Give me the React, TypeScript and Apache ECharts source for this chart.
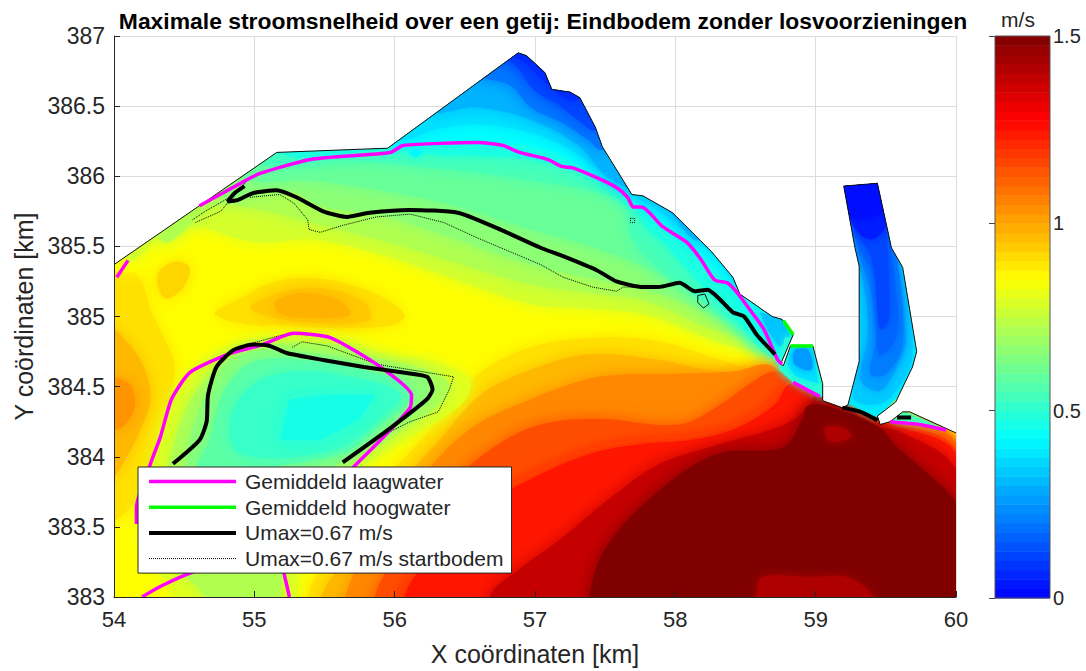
import React, { useEffect, useRef } from "react";
import * as echarts from "echarts";

type P = number[];

// ---------- axes ----------
const X_MIN = 54, X_MAX = 60, Y_MIN = 383, Y_MAX = 387;
const TITLE = "Maximale stroomsnelheid over een getij: Eindbodem zonder losvoorzieningen";
const COLOR_STOPS: [number, number[]][] = [
  [0, [0, 0, 255]], [0.428, [0, 255, 255]], [0.64, [128, 255, 128]],
  [0.85, [255, 255, 0]], [1.28, [255, 0, 0]], [1.5, [128, 0, 0]],
];

// ---------- coast (km) ----------
const COAST: P[] = [[54, 385.37], [55.16, 386.17], [55.95, 386.2], [56.88, 386.88], [56.94, 386.86], [57.07, 386.74], [57.12, 386.62], [57.25, 386.6], [57.32, 386.56], [57.43, 386.35], [57.48, 386.21], [57.69, 385.87], [57.77, 385.86], [57.98, 385.74], [58.26, 385.46], [58.41, 385.28], [58.46, 385.16], [58.69, 385], [58.76, 384.98], [58.84, 384.87], [58.75, 384.66], [58.77, 384.65], [58.82, 384.79], [58.98, 384.79], [59.05, 384.52], [59.05, 384.4], [59.19, 384.35], [59.23, 384.37], [59.31, 384.68], [59.31, 385.36], [59.28, 385.49], [59.2, 385.93], [59.44, 385.95], [59.54, 385.49], [59.62, 385.35], [59.72, 384.75], [59.69, 384.64], [59.57, 384.39], [59.44, 384.29], [59.46, 384.23], [59.53, 384.25], [59.62, 384.32], [59.67, 384.32], [60, 384.17]];
const DOMAIN_CORNERS: P[] = [[60, 383], [54, 383]];

// ---------- colour field: contour polygons, painted in order ----------
const BASE: P[] = [[53.5, 382.5], [60.5, 382.5], [60.5, 387.5], [53.5, 387.5]];
const NORTH_TOP: P[] = [[59.1, 387.5], [53.5, 387.5]];
const N85: P[] = [[53.97, 385.36], [54.26, 385.36], [54.4, 385.52], [54.56, 385.58], [54.79, 385.55], [54.93, 385.39], [55.18, 385.42], [55.4, 385.46], [55.88, 385.34], [56.35, 385.19], [56.97, 385.01], [57.32, 384.99], [57.8, 384.94], [58.3, 384.78], [58.63, 384.71], [58.82, 384.55]];
const N78: P[] = [[54.08, 385.41], [54.4, 385.62], [54.61, 385.64], [54.9, 385.55], [55.11, 385.53], [55.4, 385.55], [55.88, 385.45], [56.35, 385.29], [56.97, 385.09], [57.32, 385.06], [57.8, 385.01], [58.3, 384.82], [58.6, 384.73], [58.78, 384.57]];
const N72: P[] = [[54.33, 385.55], [54.72, 385.79], [55.04, 385.76], [55.33, 385.69], [55.88, 385.55], [56.35, 385.41], [56.97, 385.23], [57.46, 385.16], [57.8, 385.11], [58.18, 384.94], [58.6, 384.8], [58.76, 384.62]];
const N66: P[] = [[54.75, 385.87], [55.25, 385.9], [55.47, 385.79], [55.9, 385.72], [56.35, 385.58], [56.97, 385.37], [57.46, 385.26], [57.82, 385.18], [58.18, 385.05], [58.57, 384.84], [58.75, 384.66]];
const N60: P[] = [[54.9, 386.01], [55.4, 385.97], [55.9, 385.9], [56.39, 385.8], [56.97, 385.62], [57.46, 385.48], [57.89, 385.3], [58.32, 385.01], [58.67, 384.8]];
const N55: P[] = [[54.97, 386.12], [55.61, 386.12], [56.04, 386.08], [56.54, 386.03], [56.97, 385.97], [57.39, 385.9], [57.64, 385.79], [57.69, 385.55], [57.89, 385.33], [58.18, 385.12], [58.46, 384.91], [58.71, 384.73]];
const N48: P[] = [[55.11, 386.19], [56, 386.19], [56.32, 386.15], [56.89, 386.13], [57.25, 386.05], [57.68, 385.87], [57.78, 385.65], [57.93, 385.51], [58.18, 385.23], [58.43, 384.98], [58.67, 384.8]];
const N43: P[] = [[55.93, 386.22], [56.18, 386.24], [56.97, 386.22], [57.39, 386.05], [57.69, 385.83], [57.89, 385.7], [58.25, 385.39], [58.46, 385.16], [58.61, 385.01]];
const N38: P[] = [[55.95, 386.26], [56.32, 386.34], [56.59, 386.37], [57, 386.3], [57.32, 386.15], [57.53, 385.97], [57.75, 385.83], [57.89, 385.75], [58.28, 385.42], [58.5, 385.19]];
const N30: P[] = [[56.22, 386.46], [56.59, 386.49], [57, 386.39], [57.32, 386.21], [57.5, 386.01], [57.78, 385.85], [57.92, 385.78], [58.18, 385.56]];
const N20: P[] = [[56.61, 386.7], [56.82, 386.65], [56.97, 386.49], [57.21, 386.37], [57.39, 386.25], [57.48, 386.19]];
const N12: P[] = [[56.79, 386.83], [57, 386.61], [57.18, 386.5], [57.32, 386.39], [57.44, 386.33]];
const N07: P[] = [[56.86, 386.84], [57.07, 386.67], [57.18, 386.58], [57.29, 386.54]];
const SPOT: P[] = [[56.1, 386.17], [56.15, 386.21], [56.2, 386.17], [56.15, 386.13]];

const H90: P[] = [[55.38, 383], [55.54, 383.3], [55.86, 383.76], [56.18, 384.11], [56.43, 384.39], [56.61, 384.6], [56.97, 384.78], [57.46, 384.85], [57.89, 384.82], [58.32, 384.69], [58.67, 384.57], [58.89, 384.39], [59.6, 384.29], [60, 384.15]];
const H97: P[] = [[55.48, 383], [55.65, 383.27], [55.97, 383.73], [56.32, 384.12], [56.61, 384.44], [56.97, 384.62], [57.39, 384.73], [57.89, 384.69], [58.28, 384.61], [58.64, 384.61], [58.82, 384.59], [59.18, 384.35], [59.6, 384.27], [60, 384.12]];
const H105: P[] = [[55.65, 383], [55.82, 383.34], [56.18, 383.84], [56.54, 384.2], [56.97, 384.41], [57.46, 384.57], [57.96, 384.59], [58.43, 384.61], [58.64, 384.66], [58.78, 384.59], [59.1, 384.35], [59.6, 384.25], [60, 384.1]];
const H115: P[] = [[55.86, 383], [56, 383.27], [56.32, 383.73], [56.68, 384.05], [57.04, 384.23], [57.46, 384.27], [58.03, 384.23], [58.32, 384.37], [58.53, 384.52], [58.71, 384.61], [58.89, 384.52], [59.18, 384.32], [59.6, 384.23], [60, 384.05]];
const H125: P[] = [[56.07, 383], [56.25, 383.27], [56.61, 383.63], [56.97, 383.84], [57.39, 384.02], [57.75, 384.09], [58.11, 384.12], [58.43, 384.2], [58.71, 384.37], [58.82, 384.52], [59.03, 384.44], [59.32, 384.27], [59.6, 384.21], [60, 384.02]];
const H138: P[] = [[56.68, 383], [56.89, 383.2], [57.18, 383.41], [57.53, 383.7], [57.89, 383.95], [58.32, 384.09], [58.78, 384.23], [58.96, 384.37], [59.03, 384.52], [59.39, 384.23], [59.6, 384.18], [60, 383.91]];
const H150: P[] = [[57.39, 383], [57.51, 383.36], [57.91, 383.78], [58.3, 384.02], [58.77, 384.07], [58.91, 384.28], [58.94, 384.36], [59.05, 384.37], [59.44, 384.22], [59.58, 384.07], [59.81, 383.87], [60.01, 383.66]];
const PATCH_A: P[] = [[58.58, 382.8], [58.58, 383], [58.62, 383.14], [58.98, 383.14], [59.22, 383.14], [59.41, 383], [59.41, 382.8]];
const PATCH_B: P[] = [[59.07, 384.21], [59.21, 384.2], [59.25, 384.14], [59.1, 384.11]];

const A90: P[] = [[53.97, 385.3], [54.08, 385.35], [54.19, 385.26], [54.26, 385.05], [54.36, 384.84], [54.43, 384.66], [54.4, 384.41], [54.36, 384.2], [54.26, 383.84], [54.11, 383.63], [53.97, 383.55]];
const A97: P[] = [[53.97, 384.91], [54.11, 384.8], [54.22, 384.62], [54.26, 384.41], [54.19, 384.2], [54.08, 383.98], [53.97, 383.84]];
const A103: P[] = [[53.97, 384.55], [54.11, 384.52], [54.15, 384.37], [54.08, 384.23], [53.97, 384.2]];
const B92: P[] = [[54.31, 385.3], [54.43, 385.39], [54.54, 385.35], [54.48, 385.19], [54.36, 385.13]];
const C90: P[] = [[54.72, 385.02], [54.9, 385.13], [55.15, 385.25], [55.47, 385.27], [55.82, 385.18], [56.07, 385.02], [56, 384.94], [55.54, 384.92], [55.25, 384.94], [54.97, 384.94]];
const C94: P[] = [[54.97, 385.06], [55.22, 385.18], [55.5, 385.2], [55.79, 385.1], [55.82, 384.97], [55.33, 384.96]];
const C98: P[] = [[55.15, 385.11], [55.36, 385.17], [55.61, 385.11], [55.68, 385.01], [55.4, 384.99], [55.18, 385.02]];

const I80: P[] = [[54.43, 382.8], [54.43, 383], [54.26, 383.27], [54.19, 383.59], [54.28, 384.02], [54.38, 384.35], [54.54, 384.61], [54.81, 384.78], [55.06, 384.85], [55.59, 384.85], [55.88, 384.75], [56.35, 384.66], [56.54, 384.54], [56.47, 384.37], [56.11, 384.14], [55.75, 383.9], [55.47, 383.48], [55.33, 383.2], [55.31, 383], [55.31, 382.8]];
const I72: P[] = [[54.65, 382.8], [54.65, 383], [54.4, 383.27], [54.33, 383.63], [54.41, 384.02], [54.51, 384.34], [54.65, 384.55], [54.86, 384.73], [55.08, 384.8], [55.57, 384.8], [55.86, 384.71], [56.25, 384.61], [56.39, 384.52], [56.32, 384.37], [56, 384.16], [55.65, 383.87], [55.33, 383.48], [55.22, 383.2], [55.18, 383], [55.18, 382.8]];
const I66: P[] = [[54.51, 383.91], [54.61, 384.34], [54.79, 384.66], [55.04, 384.76], [55.47, 384.73], [55.82, 384.66], [56.18, 384.59], [56.29, 384.49], [56.18, 384.34], [55.9, 384.16], [55.54, 383.91], [55.22, 383.63], [54.61, 383.63]];
const I58: P[] = [[54.68, 384.12], [54.79, 384.48], [55, 384.68], [55.47, 384.68], [55.82, 384.61], [56.07, 384.52], [56.11, 384.41], [55.9, 384.23], [55.61, 384.02], [54.61, 383.91]];
const I52: P[] = [[54.83, 384.27], [55, 384.52], [55.33, 384.61], [55.82, 384.54], [56.04, 384.44], [55.93, 384.3], [55.57, 384.05], [54.9, 384.02]];
const I47: P[] = [[55.25, 384.41], [55.54, 384.44], [55.86, 384.44], [55.75, 384.27], [55.47, 384.12], [55.18, 384.12]];

const PIER42: P[] = [[59.2, 384.37], [59.25, 384.37], [59.44, 384.28], [59.78, 384.62], [59.78, 385.97], [59.17, 385.97]];
const PIER36: P[] = [[59.27, 384.42], [59.39, 384.37], [59.53, 384.42], [59.69, 384.73], [59.6, 385.41], [59.46, 385.97], [59.21, 385.97], [59.29, 385.41], [59.32, 384.77]];
const PIER30: P[] = [[59.32, 384.55], [59.46, 384.47], [59.6, 384.69], [59.64, 384.84], [59.57, 385.48], [59.46, 385.97], [59.21, 385.97], [59.29, 385.48], [59.36, 385.12], [59.37, 384.84]];
const PIER24: P[] = [[59.39, 384.59], [59.5, 384.59], [59.62, 384.8], [59.57, 385.48], [59.46, 385.97], [59.21, 385.97], [59.3, 385.48], [59.39, 385.19], [59.43, 384.84]];
const PIER17: P[] = [[59.45, 384.73], [59.55, 384.8], [59.59, 384.98], [59.54, 385.44], [59.44, 385.97], [59.21, 385.97], [59.3, 385.51], [59.43, 385.26]];
const PIER10: P[] = [[59.46, 384.91], [59.52, 384.98], [59.52, 385.33], [59.5, 385.65], [59.44, 385.97], [59.21, 385.97], [59.28, 385.62], [59.4, 385.41]];
const PIER05: P[] = [[59.39, 385.55], [59.5, 385.65], [59.44, 385.97], [59.21, 385.97], [59.27, 385.65]];
const PIER02: P[] = [[59.25, 385.72], [59.48, 385.76], [59.44, 385.97], [59.21, 385.97]];

const BLOCK1A: P[] = [[58.44, 385.18], [58.8, 385.1], [58.95, 384.85], [58.8, 384.6], [58.74, 384.67], [58.63, 384.88], [58.46, 385.11]];
const BLOCK1B: P[] = [[58.6, 385.03], [58.78, 384.98], [58.82, 384.85], [58.74, 384.78], [58.66, 384.9]];
const BLOCK2A: P[] = [[58.78, 384.85], [59.02, 384.85], [59.1, 384.42], [59.03, 384.43], [58.84, 384.53], [58.74, 384.62]];
const BLOCK2B: P[] = [[58.83, 384.8], [58.97, 384.8], [59.02, 384.52], [58.85, 384.58], [58.8, 384.66]];
const BLOCK2C: P[] = [[58.85, 384.76], [58.95, 384.76], [58.97, 384.62], [58.85, 384.66]];
const BLOCK3: P[] = [[59.53, 384.28], [59.64, 384.32], [59.94, 384.19], [59.78, 384.23], [59.55, 384.25]];

const closeSouth = (pts: P[]): P[] => [...pts, [60.5, 382.5], [pts[0][0], 382.5]];
const closeNorth = (pts: P[]): P[] => [...pts, ...NORTH_TOP];

const LAYERS: { value: number; points: P[]; fine?: boolean }[] = [
  { value: 0.85, points: BASE },
  { value: 0.9, points: A90 }, { value: 0.97, points: A97 }, { value: 1.03, points: A103 },
  { value: 0.92, points: B92 }, { value: 0.9, points: C90 }, { value: 0.94, points: C94 }, { value: 0.98, points: C98 },
  { value: 0.85, points: closeNorth(N85) }, { value: 0.78, points: closeNorth(N78) }, { value: 0.72, points: closeNorth(N72) },
  { value: 0.66, points: closeNorth(N66) }, { value: 0.6, points: closeNorth(N60) }, { value: 0.55, points: closeNorth(N55) },
  { value: 0.48, points: closeNorth(N48) }, { value: 0.43, points: closeNorth(N43) }, { value: 0.38, points: closeNorth(N38) },
  { value: 0.3, points: closeNorth(N30) }, { value: 0.2, points: closeNorth(N20) }, { value: 0.12, points: closeNorth(N12) },
  { value: 0.07, points: closeNorth(N07) }, { value: 0.42, points: SPOT, fine: true },
  { value: 0.9, points: closeSouth(H90) }, { value: 0.97, points: closeSouth(H97) }, { value: 1.05, points: closeSouth(H105) },
  { value: 1.15, points: closeSouth(H115) }, { value: 1.25, points: closeSouth(H125) }, { value: 1.38, points: closeSouth(H138) },
  { value: 1.5, points: closeSouth(H150) }, { value: 1.42, points: PATCH_A, fine: true }, { value: 1.42, points: PATCH_B, fine: true },
  { value: 0.8, points: I80 }, { value: 0.72, points: I72 }, { value: 0.66, points: I66 },
  { value: 0.58, points: I58 }, { value: 0.52, points: I52 }, { value: 0.47, points: I47 },
  { value: 0.4, points: PIER42, fine: true }, { value: 0.34, points: PIER36, fine: true }, { value: 0.27, points: PIER30, fine: true }, { value: 0.21, points: PIER24, fine: true },
  { value: 0.17, points: PIER17, fine: true }, { value: 0.12, points: PIER10, fine: true }, { value: 0.05, points: PIER05, fine: true }, { value: 0.02, points: PIER02, fine: true },
  { value: 0.45, points: BLOCK1A, fine: true }, { value: 0.33, points: BLOCK1B, fine: true },
  { value: 0.5, points: BLOCK2A, fine: true }, { value: 0.38, points: BLOCK2B, fine: true }, { value: 0.26, points: BLOCK2C, fine: true },
  { value: 0.55, points: BLOCK3, fine: true },
];

// ---------- contour lines (km) ----------
const LAAG: P[][] = [
  [[54.61, 385.79], [54.92, 385.96], [55.04, 386.02], [55.4, 386.12], [55.97, 386.17], [56.06, 386.22], [56.59, 386.24], [56.77, 386.22], [56.89, 386.17], [57.09, 386.12], [57.19, 386.07], [57.27, 386.06], [57.44, 385.99], [57.58, 385.92], [57.66, 385.85], [57.7, 385.78], [57.76, 385.78], [57.91, 385.64], [58.08, 385.53], [58.18, 385.41], [58.28, 385.26], [58.37, 385.24], [58.44, 385.17], [58.53, 385.05], [58.63, 384.91], [58.73, 384.69], [58.76, 384.66]],
  [[58.84, 384.53], [59.03, 384.43]],
  [[59.53, 384.25], [59.74, 384.23], [59.93, 384.19]],
  [[54.02, 385.28], [54.1, 385.4]],
  [[54.2, 383], [54.34, 383.08], [54.62, 383.19], [55.2, 383.19], [55.22, 383.13], [55.25, 383]],
  [[54.16, 383.52], [54.16, 383.64], [54.26, 383.95], [54.33, 384.14], [54.41, 384.41], [54.54, 384.6], [54.81, 384.73], [55.06, 384.8], [55.28, 384.88], [55.54, 384.85], [55.87, 384.66], [56.12, 384.44], [56.11, 384.35], [55.92, 384.14], [55.85, 384.07], [55.68, 383.9]],
];
const HOOG: P[][] = [
  [[58.77, 384.97], [58.84, 384.87]],
  [[58.82, 384.79], [58.98, 384.79]],
];
const UMAX: P[][] = [
  [[54.93, 385.93], [54.86, 385.88], [54.81, 385.82], [54.88, 385.83], [54.99, 385.88], [55.16, 385.9], [55.3, 385.85], [55.49, 385.75], [55.66, 385.71], [55.82, 385.74], [56.11, 385.76], [56.45, 385.74], [56.73, 385.63], [57.04, 385.49], [57.2, 385.43], [57.44, 385.33], [57.58, 385.25], [57.77, 385.21], [57.88, 385.21], [58.03, 385.24], [58.14, 385.18], [58.23, 385.19], [58.32, 385.12], [58.41, 385.03], [58.49, 385], [58.58, 384.87], [58.71, 384.73]],
  [[54.42, 383.95], [54.61, 384.12], [54.66, 384.25], [54.67, 384.44], [54.73, 384.64], [54.85, 384.76], [54.99, 384.8], [55.11, 384.79], [55.23, 384.74], [55.49, 384.69], [55.78, 384.64], [56.06, 384.6], [56.23, 384.57], [56.27, 384.48], [56.23, 384.41], [55.95, 384.19], [55.63, 383.96]],
  [[59.19, 384.35], [59.32, 384.32], [59.44, 384.26]],
  [[59.58, 384.28], [59.68, 384.28]],
];
const LOOP: P[] = [[58.16, 385.15], [58.21, 385.16], [58.24, 385.09], [58.2, 385.06], [58.16, 385.1], [58.16, 385.15]];
const START: P[][] = [
  [[54.58, 385.67], [54.76, 385.75], [54.81, 385.81], [54.95, 385.97]],
  [[54.56, 385.69], [54.65, 385.75], [54.79, 385.83], [54.9, 385.9]],
  [[54.97, 385.85], [55.18, 385.87], [55.28, 385.81], [55.38, 385.69], [55.39, 385.62], [55.47, 385.6], [55.63, 385.65], [55.87, 385.71], [56.11, 385.73], [56.35, 385.67], [56.59, 385.56], [57.04, 385.37], [57.2, 385.28], [57.41, 385.21], [57.58, 385.18], [57.63, 385.21], [57.84, 385.21]],
  [[54.95, 384.8], [55.13, 384.85], [55.28, 384.89]],
  [[55.27, 384.78], [55.34, 384.82], [55.52, 384.79], [55.87, 384.66], [56.42, 384.57], [56.39, 384.48], [56.31, 384.32], [56.11, 384.25], [55.97, 384.18]],
  [[57.68, 385.7], [57.71, 385.7], [57.71, 385.67], [57.68, 385.67], [57.68, 385.7]],
];

const NAME_LAAG = "Gemiddeld laagwater";
const NAME_HOOG = "Gemiddeld hoogwater";
const NAME_UMAX = "Umax=0.67 m/s";
const NAME_START = "Umax=0.67 m/s startbodem";

// ---------- colour scale ----------
const COLORBAR_STEP = 0.025;
const colorOf = (v: number): string => {
  const c = Math.max(0, Math.min(1.5, v));
  for (let i = 1; i < COLOR_STOPS.length; i++) {
    const [v1, c1] = COLOR_STOPS[i];
    const [v0, c0] = COLOR_STOPS[i - 1];
    if (c <= v1) {
      const t = (c - v0) / (v1 - v0);
      return `rgb(${c0.map((a, k) => Math.round(a + (c1[k] - a) * t)).join(",")})`;
    }
  }
  return "rgb(128,0,0)";
};
const COLORBAR_LEVELS = Array.from({ length: 60 }, (_, i) => i * COLORBAR_STEP);

const INK = "#262626";
const FONT = "'Liberation Sans', Arial, sans-serif";
const SOFT_EDGE = 16;
const FINE_EDGE = 8;

const lineSeries = (name: string, data: P[], color: string, width: number, type = "solid", smooth: number | boolean = 0.2) => ({
  type: "line", name, data, xAxisIndex: 0, yAxisIndex: 0, showSymbol: false, symbol: "none", smooth,
  lineStyle: { color, width, type }, itemStyle: { color }, z: 3, silent: true,
});

export default function App() {
  const ref = useRef<HTMLDivElement>(null);
  useEffect(() => {
    const chart = echarts.init(ref.current!, undefined, { renderer: "svg" });
    const domain = [...COAST, ...DOMAIN_CORNERS];
    chart.setOption({
      animation: false,
      backgroundColor: "#fff",
      textStyle: { fontFamily: FONT },
      title: [
        { text: TITLE, left: 538, top: 4, textAlign: "center", textStyle: { fontSize: 22.9, fontWeight: "bold", color: "#000", fontFamily: FONT } },
        { text: "m/s", left: 1013, top: 4, textAlign: "center", textStyle: { fontSize: 21, fontWeight: "normal", color: INK, fontFamily: FONT } },
      ],
      grid: [
        { left: 114, right: 130, top: 36, bottom: 73 },
        { left: 995, right: 36, top: 36, bottom: 73 },
      ],
      xAxis: [
        { type: "value", gridIndex: 0, min: X_MIN, max: X_MAX, interval: 1, axisLabel: { show: false }, axisTick: { show: false }, axisLine: { show: false }, splitLine: { show: true, lineStyle: { color: "#dcdcdc", width: 1 } } },
        { type: "value", gridIndex: 0, position: "bottom", min: X_MIN, max: X_MAX, interval: 1, z: 5, name: "X coördinaten [km]", nameLocation: "middle", nameGap: 44, nameTextStyle: { fontSize: 25, color: INK, fontFamily: FONT }, axisLabel: { fontSize: 22, color: INK, margin: 11, fontFamily: FONT }, axisTick: { inside: true, length: 6, lineStyle: { color: INK } }, axisLine: { onZero: false, lineStyle: { color: INK } }, splitLine: { show: false } },
        { type: "value", gridIndex: 1, min: 0, max: 1, show: false },
      ],
      yAxis: [
        { type: "value", gridIndex: 0, min: Y_MIN, max: Y_MAX, interval: 0.5, axisLabel: { show: false }, axisTick: { show: false }, axisLine: { show: false }, splitLine: { show: true, lineStyle: { color: "#dcdcdc", width: 1 } } },
        { type: "value", gridIndex: 0, position: "left", min: Y_MIN, max: Y_MAX, interval: 0.5, z: 5, name: "Y coördinaten [km]", nameLocation: "middle", nameGap: 77, nameTextStyle: { fontSize: 25, color: INK, fontFamily: FONT }, axisLabel: { fontSize: 23, color: INK, margin: 9, fontFamily: FONT }, axisTick: { inside: true, length: 6, lineStyle: { color: INK } }, axisLine: { onZero: false, lineStyle: { color: INK } }, splitLine: { show: false } },
        { type: "value", gridIndex: 1, position: "right", min: 0, max: 1.5, interval: 0.5, z: 5, axisLabel: { fontSize: 20, color: INK, margin: 3, fontFamily: FONT, formatter: (v: number) => String(v) }, axisTick: { inside: true, length: 6, lineStyle: { color: "#444" } }, axisLine: { show: false }, splitLine: { show: false } },
      ],
      legend: {
        orient: "vertical", left: 138, top: 467,
        data: [NAME_LAAG, NAME_HOOG, NAME_UMAX, NAME_START],
        backgroundColor: "#fff", borderColor: INK, borderWidth: 1,
        padding: [4, 8, 4, 9], itemWidth: 87, itemHeight: 14, itemGap: 4.7, selectedMode: false,
        itemStyle: { opacity: 0 },
        lineStyle: { width: "inherit" },
        textStyle: { fontSize: 21, color: INK, fontFamily: FONT, padding: [0, 0, 0, 4] },
        z: 10,
      },
      graphic: [{ type: "rect", z: 20, silent: true, shape: { x: 995, y: 36, width: 55, height: 562 }, style: { fill: "none", stroke: "#555", lineWidth: 1 } }],
      series: [
        {
          type: "custom", xAxisIndex: 0, yAxisIndex: 0, z: 2, silent: true, clip: false,
          data: LAYERS.map((l, i) => [i, l.value]),
          encode: { x: -1, y: -1 },
          renderItem: (params: any, api: any) => {
            const layer = LAYERS[params.dataIndex];
            const sharp = layer.points === BASE || layer.points.length <= 7 && layer.value > 0.3 && layer.value < 0.56;
            const color = colorOf(layer.value);
            return {
              type: "polygon",
              shape: { points: layer.points.map((p) => api.coord(p)), smooth: sharp ? 0 : 0.35 },
              style: { fill: color, stroke: null, shadowColor: layer.points === BASE ? "transparent" : color, shadowBlur: layer.points === BASE ? 0 : layer.fine ? FINE_EDGE : SOFT_EDGE },
              clipPath: { type: "polygon", shape: { points: domain.map((p) => api.coord(p)) } },
              silent: true,
            };
          },
        },
        {
          type: "custom", xAxisIndex: 2, yAxisIndex: 2, z: 2, silent: true,
          data: COLORBAR_LEVELS.map((v) => [0, v]),
          encode: { x: 0, y: 1 },
          renderItem: (params: any, api: any) => {
            const v = COLORBAR_LEVELS[params.dataIndex];
            const a = api.coord([0, v]);
            const b = api.coord([1, v + COLORBAR_STEP]);
            return { type: "rect", shape: { x: a[0], y: b[1], width: b[0] - a[0], height: a[1] - b[1] + 0.5 }, style: { fill: colorOf(v + COLORBAR_STEP / 2), stroke: null } };
          },
        },
        lineSeries("coast", COAST, "#111", 1, "solid", false),
        lineSeries("loop", LOOP, "#111", 1, "solid", false),
        ...START.map((d) => lineSeries(NAME_START, d, "#000", 1, "dotted", false)),
        ...HOOG.map((d) => lineSeries(NAME_HOOG, d, "#00ff00", 3.5, "solid", false)),
        ...LAAG.map((d) => lineSeries(NAME_LAAG, d, "#ff00ff", 3.5)),
        ...UMAX.map((d) => lineSeries(NAME_UMAX, d, "#000", 4)),
      ],
    });
    return () => chart.dispose();
  }, []);
  return <div ref={ref} style={{ position: "fixed", left: 0, top: 0, width: 1086, height: 671 }} />;
}
